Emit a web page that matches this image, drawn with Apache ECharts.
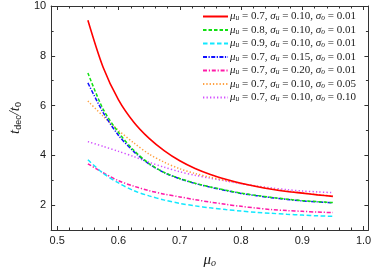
<!DOCTYPE html>
<html><head><meta charset="utf-8">
<script src="https://cdn.jsdelivr.net/npm/echarts@6/dist/echarts.min.js"></script>
<style>html,body{margin:0;padding:0;background:#fff}#c{width:374px;height:273px}</style>
</head><body><div id="c"></div>
<script>
// mu_o sample points
const muO = [0.55,0.575,0.60,0.625,0.65,0.675,0.70,0.725,0.75,0.775,0.80,0.825,0.85,0.875,0.90,0.925,0.95];
// t_dec/t_0 series
const s1 = [9.43,7.53,6.23,5.33,4.68,4.18,3.78,3.47,3.23,3.04,2.88,2.75,2.64,2.55,2.48,2.41,2.35]; // mu_u=0.7, sig_u=0.10, sig_o=0.01
const s2 = [7.31,5.85,4.92,4.20,3.67,3.31,3.07,2.88,2.73,2.60,2.48,2.39,2.31,2.24,2.18,2.14,2.10]; // mu_u=0.8
const s3 = [3.82,3.28,2.89,2.58,2.37,2.20,2.07,1.97,1.89,1.82,1.76,1.71,1.67,1.63,1.60,1.57,1.55]; // mu_u=0.9
const s4 = [6.91,5.72,4.80,4.15,3.65,3.30,3.06,2.87,2.72,2.59,2.47,2.38,2.30,2.23,2.17,2.13,2.09]; // sig_u=0.15
const s5 = [3.66,3.30,2.98,2.76,2.58,2.44,2.33,2.22,2.12,2.03,1.95,1.88,1.82,1.78,1.75,1.72,1.70]; // sig_u=0.20
const s6 = [6.18,5.57,5.00,4.50,4.05,3.72,3.46,3.27,3.12,2.99,2.87,2.76,2.66,2.57,2.49,2.42,2.36]; // sig_o=0.05
const s7 = [4.55,4.36,4.16,3.95,3.72,3.52,3.34,3.20,3.08,2.97,2.86,2.77,2.69,2.62,2.57,2.53,2.50]; // sig_o=0.10
const seriesValues = [s1,s2,s3,s4,s5,s6,s7];
// legend parameters
const muU  = ['0.7','0.8','0.9','0.7','0.7','0.7','0.7'];
const sigU = ['0.10','0.10','0.10','0.15','0.20','0.10','0.10'];
const sigO = ['0.01','0.01','0.01','0.01','0.01','0.05','0.10'];
// ticks
const xMajor = [0.5,0.6,0.7,0.8,0.9,1.0];
const xMinor = [0.52,0.54,0.56,0.58,0.62,0.64,0.66,0.68,0.72,0.74,0.76,0.78,0.82,0.84,0.86,0.88,0.92,0.94,0.96,0.98];
const yMajor = [2,4,6,8,10];
const yMinor = [3,5,7,9];

const styles = [
  {color:'#ff0000', type:'solid', width:1.6},
  {color:'#11e011', type:[3.5,2], width:1.5},
  {color:'#11e8ff', type:[4.5,2.5], width:1.5},
  {color:'#1010ff', type:[4,1.5,1.2,1.5], width:1.5},
  {color:'#ff1aa8', type:[4,1.8,1.2,1.8], width:1.5},
  {color:'#ffa040', type:[1.3,2], width:1.5},
  {color:'#d24dff', type:[1.3,2.2], width:1.5}
];
const names = muU.map((m,i)=>'s'+i);
const legendText = {};
names.forEach((n,i)=>{
  legendText[n] = '{g|μ}{s|u}{n| = '+muU[i]+', }{g|σ}{s|u}{n| = '+sigU[i]+', }{g|σ}{s|o}{n| = '+sigO[i]+'}';
});

const frameColor = '#333';
const tickFont = {color:'#1a1a1a', fontSize:11, fontFamily:'Liberation Sans, Arial, sans-serif'};
function xAx(pos, vals, len, major){
  return {type:'value', min:0.49, max:1.008, position:pos,
    axisLine:{show:major, onZero:false, lineStyle:{color:frameColor, width:1}},
    axisTick:{show:true, inside:true, length:len, customValues:vals, lineStyle:{color:frameColor}},
    axisLabel:{show: major && pos==='bottom', customValues:vals, margin:5, formatter:v=>v.toFixed(1), ...tickFont},
    splitLine:{show:false}};
}
function yAx(pos, vals, len, major){
  return {type:'value', min:1, max:10, position:pos,
    axisLine:{show:major, onZero:false, lineStyle:{color:frameColor, width:1}},
    axisTick:{show:true, inside:true, length:len, customValues:vals, lineStyle:{color:frameColor}},
    axisLabel:{show: major && pos==='left', customValues:vals, margin:5, formatter:v=>String(v), ...tickFont},
    splitLine:{show:false}};
}
const xAxes = [xAx('bottom',xMajor,4,true), xAx('bottom',xMinor,2.5,false), xAx('top',xMajor,4,true), xAx('top',xMinor,2.5,false)];
Object.assign(xAxes[0], {name:'{g|μ}{s|o}', nameLocation:'middle', nameGap:22,
  nameTextStyle:{rich:{g:{fontFamily:'Liberation Serif, serif', fontStyle:'italic', fontSize:15, color:'#1a1a1a'},
                       s:{fontFamily:'Liberation Serif, serif', fontStyle:'italic', fontSize:10, color:'#1a1a1a', verticalAlign:'bottom', padding:[6,0,0,0]}}}});
const yAxes = [yAx('left',yMajor,4,true), yAx('left',yMinor,2.5,false), yAx('right',yMajor,4,true), yAx('right',yMinor,2.5,false)];
Object.assign(yAxes[0], {name:'{t|t}{d|dec}{n|/}{t|t}{d|0}', nameLocation:'middle', nameGap:24,
  nameTextStyle:{rich:{t:{fontFamily:'Liberation Serif, serif', fontStyle:'italic', fontSize:15, color:'#1a1a1a'},
                       d:{fontFamily:'Liberation Sans, sans-serif', fontSize:9, color:'#1a1a1a', verticalAlign:'bottom', padding:[6,0,0,0]},
                       n:{fontFamily:'Liberation Serif, serif', fontStyle:'italic', fontSize:15, color:'#1a1a1a'}}}});

const chart = echarts.init(document.getElementById('c'), null, {renderer:'canvas'});
chart.setOption({
  animation:false,
  backgroundColor:'#fff',
  grid:{left:40, right:2, top:6, bottom:41, containLabel:false},
  xAxis:xAxes,
  yAxis:yAxes,
  legend:{orient:'vertical', right:13, top:6, itemWidth:25, itemHeight:10, itemGap:2, align:'left',
    data:names, formatter:n=>legendText[n],
    itemStyle:{opacity:0, borderWidth:0},
    textStyle:{padding:[0,0,0,-3], rich:{
      g:{fontFamily:'Liberation Serif, serif', fontStyle:'italic', fontSize:11, color:'#1a1a1a', lineHeight:12},
      s:{fontFamily:'Liberation Serif, serif', fontStyle:'italic', fontSize:7.5, color:'#1a1a1a', verticalAlign:'bottom', padding:[4,0,0,0]},
      n:{fontFamily:'Liberation Serif, serif', fontSize:11, color:'#1a1a1a', lineHeight:12}}}},
  series: seriesValues.map((vals,i)=>({
    name:names[i], type:'line', xAxisIndex:0, yAxisIndex:0,
    data: muO.map((x,j)=>[x, vals[j]]),
    showSymbol:false, symbol:'none', smooth:0.3,
    lineStyle:{color:styles[i].color, type:styles[i].type, width:styles[i].width},
    itemStyle:{color:styles[i].color}, z: 10-i
  }))
});
</script></body></html>
